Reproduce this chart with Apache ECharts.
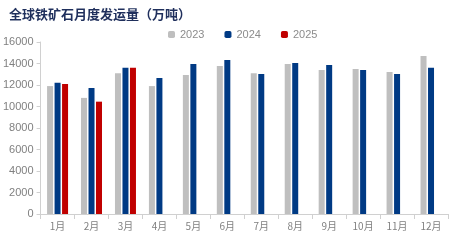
<!DOCTYPE html>
<html><head><meta charset="utf-8">
<script src="https://cdn.jsdelivr.net/npm/echarts@6/dist/echarts.min.js"></script>
<style>html,body{margin:0;padding:0;background:#fff}#c{width:459px;height:240px}</style>
</head><body><div id="c"></div>
<script>
const categories = ['1月','2月','3月','4月','5月','6月','7月','8月','9月','10月','11月','12月'];
const s2023 = [11900,10800,13100,11900,12930,13770,13100,13950,13400,13490,13210,14700];
const s2024 = [12200,11720,13600,12650,13950,14330,13020,14050,13860,13400,13020,13600];
const s2025 = [12100,10450,13600,null,null,null,null,null,null,null,null,null];
const yTicks = {min:0,max:16000,interval:2000};

const chart = echarts.init(document.getElementById('c'));
const numFont = "'Liberation Sans Narrow','Liberation Sans',sans-serif";
chart.setOption({
  animation:false,
  title:{text:'全球铁矿石月度发运量（万吨）',left:4,top:3,
    textStyle:{color:'#1f2f5c',fontSize:13,fontWeight:'bold',fontFamily:'Noto Sans CJK SC'}},
  legend:{top:24,left:163,itemWidth:7,itemHeight:7,itemGap:20,
    textStyle:{color:'#8c8c8c',fontSize:11,fontFamily:numFont},
    data:['2023','2024','2025']},
  grid:{left:34,right:11,top:42,bottom:26},
  xAxis:{type:'category',data:categories,
    axisLine:{lineStyle:{color:'#d0d0d0'}},
    axisTick:{show:true,alignWithLabel:false,length:5,lineStyle:{color:'#d0d0d0'}},
    axisLabel:{color:'#808080',fontSize:10,fontFamily:'Noto Sans CJK SC',margin:7}},
  yAxis:{type:'value',min:yTicks.min,max:yTicks.max,interval:yTicks.interval,
    axisLine:{show:true,lineStyle:{color:'#d0d0d0'}},
    axisTick:{show:true,length:4,lineStyle:{color:'#d0d0d0'}},
    splitLine:{show:false},
    axisLabel:{margin:7,color:'#808080',fontSize:11,fontFamily:numFont,formatter:v=>String(v)}},
  series:[
    {name:'2023',type:'bar',data:s2023,barWidth:6,barGap:'25%',itemStyle:{color:'#bfbfbf'}},
    {name:'2024',type:'bar',data:s2024,barWidth:6,barGap:'25%',itemStyle:{color:'#003a84'}},
    {name:'2025',type:'bar',data:s2025,barWidth:6,barGap:'25%',itemStyle:{color:'#c00000'}}
  ]
});
</script></body></html>
